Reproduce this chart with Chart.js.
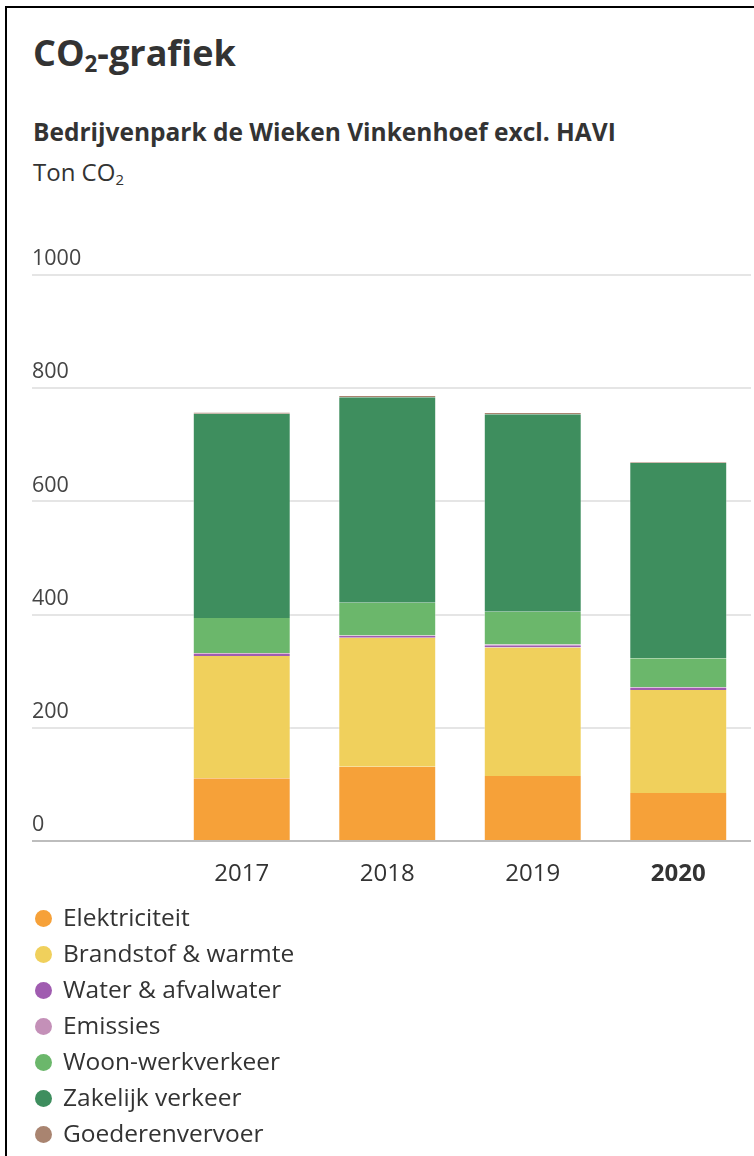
<!DOCTYPE html>
<html>
<head>
<meta charset="utf-8">
<script src="https://cdn.jsdelivr.net/npm/chart.js@4.4.0/dist/chart.umd.min.js"></script>
<style>
  body { margin:0; background:#fff; overflow:hidden; font-family: "Open Sans", sans-serif; color:#333; }
  .card { position:absolute; left:5px; top:6px; width:900px; height:1300px; border-top:2px solid #000; border-left:2px solid #000; }
  .txt { position:absolute; left:33px; margin:0; line-height:1; white-space:nowrap; }
  #title { top:35px; font-size:36px; font-weight:700; }
  #subtitle { top:120px; font-size:24.5px; font-weight:700; }
  #unit { top:160px; font-size:24px; }
  .sub { font-size:0.62em; vertical-align:-0.25em; }
  #wrap { position:absolute; left:0; top:240px; width:754px; height:660px; }
  #legend { position:absolute; left:35px; top:899px; margin:0; padding:0; list-style:none; }
  #legend li { height:36px; line-height:36px; font-size:24.5px; color:#333; }
  #legend span.dot { display:inline-block; width:17px; height:17px; border-radius:50%; margin-right:11px; vertical-align:-1px; }
</style>
</head>
<body>
<div class="card"></div>
<h1 class="txt" id="title">CO<span class="sub">2</span>-grafiek</h1>
<div class="txt" id="subtitle">Bedrijvenpark de Wieken Vinkenhoef excl. HAVI</div>
<div class="txt" id="unit">Ton CO<span class="sub">2</span></div>
<div id="wrap"><canvas id="co2chart"></canvas></div>
<ul id="legend"></ul>
<script>
// data (ton CO2)
var years = ['2017', '2018', '2019', '2020'];
var elektriciteit = [111, 131, 115, 85];
var brandstof = [216, 228, 227, 182];
var water = [4, 3, 4, 4];
var emissies = [1, 1, 1, 1];
var woonwerk = [62, 58, 58, 51];
var zakelijk = [361, 363, 349, 345];
var goederen = [2, 2, 2, 1];
var yTicks = [0, 200, 400, 600, 800, 1000];

var series = [
    {label: 'Elektriciteit', data: elektriciteit, color: '#f6a139'},
    {label: 'Brandstof & warmte', data: brandstof, color: '#f0d05c'},
    {label: 'Water & afvalwater', data: water, color: '#a05cb0'},
    {label: 'Emissies', data: emissies, color: '#c490b8'},
    {label: 'Woon-werkverkeer', data: woonwerk, color: '#6bb76b'},
    {label: 'Zakelijk verkeer', data: zakelijk, color: '#3e8e5e'},
    {label: 'Goederenvervoer', data: goederen, color: '#a98470'}
];

var datasets = [];
for (var i = 0; i < series.length; i++) {
    datasets.push({
        label: series[i].label,
        data: series[i].data,
        backgroundColor: series[i].color,
        borderColor: 'rgba(255,255,255,0.35)',
        borderWidth: {left: 1, right: 1, top: 0, bottom: 0},
        barPercentage: 0.673,
        categoryPercentage: 1
    });
}

var ctx = document.getElementById('co2chart').getContext('2d');
var chart = new Chart(ctx, {
    type: 'bar',
    data: { labels: years, datasets: datasets },
    options: {
        responsive: true,
        maintainAspectRatio: false,
        animation: false,
        layout: { padding: { left: 32, right: 3, top: 35, bottom: 0 } },
        plugins: { legend: { display: false }, tooltip: { enabled: false } },
        scales: {
            x: {
                stacked: true,
                grid: { display: false, drawTicks: false },
                border: { display: false },
                ticks: {
                    padding: 19,
                    color: '#333',
                    font: function (c) {
                        return { family: 'Open Sans', size: 24, weight: c.index === 3 ? 'bold' : 'normal' };
                    }
                },
                afterFit: function (scale) { scale.height = 59; }
            },
            y: {
                stacked: true,
                min: 0,
                max: 1000,
                afterBuildTicks: function (scale) {
                    scale.ticks = yTicks.map(function (v) { return {value: v}; });
                },
                grid: {
                    color: function (c) { return c.tick && c.tick.value === 0 ? '#bdbdbd' : '#e5e5e5'; },
                    lineWidth: 2,
                    tickLength: 137
                },
                border: { display: false },
                ticks: {
                    crossAlign: 'far',
                    labelOffset: -16,
                    padding: 0,
                    color: '#444',
                    font: { family: 'Open Sans', size: 21.5 },
                    callback: function (v) { return String(v); }
                },
                afterFit: function (scale) { scale.width = 137; }
            }
        }
    }
});

// html legend, one item per line
var legend = document.getElementById('legend');
chart.data.datasets.forEach(function (ds) {
    var li = document.createElement('li');
    li.innerHTML = '<span class="dot" style="background:' + ds.backgroundColor + '"></span>' + ds.label;
    legend.appendChild(li);
});
</script>
</body>
</html>
